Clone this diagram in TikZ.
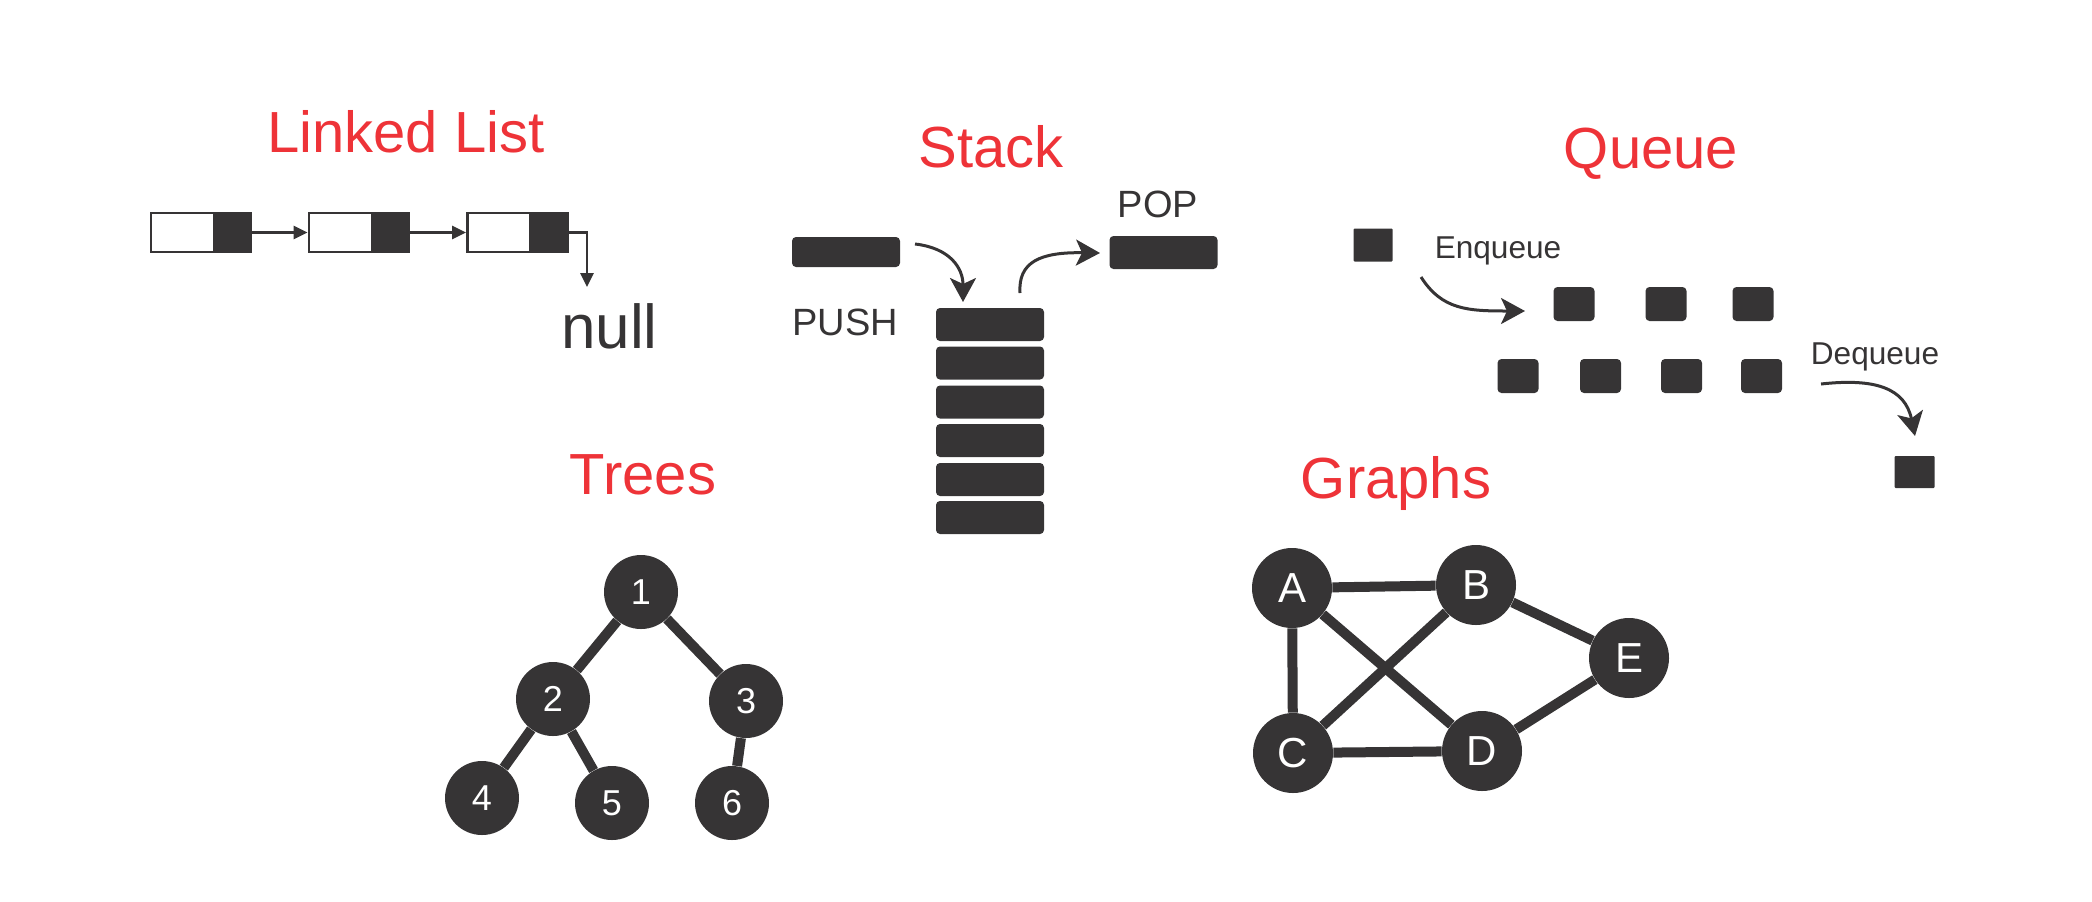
\documentclass[tikz,border=0pt]{standalone}
\usepackage{fontspec}
\setmainfont{Liberation Sans}
\usetikzlibrary{positioning,arrows.meta}
\definecolor{ink}{HTML}{363435}
\definecolor{headred}{HTML}{EE3338}

\begin{document}
\begin{tikzpicture}[x=0.5pt,y=-0.5pt]
    \def\px{0.5pt}
    \tikzstyle{heading}=[text=headred, font=\fontsize{29}{30}\selectfont, anchor=base, inner sep=0pt]
    \tikzstyle{note}=[text=ink, anchor=base, inner sep=0pt]
    \tikzstyle{cell}=[draw=ink, line width=1.4pt, fill=white, minimum width=63*\px, minimum height=39*\px, inner sep=0pt]
    \tikzstyle{ptr}=[draw=ink, line width=1.4pt, fill=ink, minimum width=34*\px, minimum height=39*\px, inner sep=0pt]
    \tikzstyle{bar}=[fill=ink, rounded corners=2pt, minimum width=108*\px, minimum height=33*\px, inner sep=0pt]
    \tikzstyle{item}=[fill=ink, rounded corners=2pt, minimum width=41*\px, minimum height=34*\px, inner sep=0pt]
    \tikzstyle{vertex}=[circle, fill=ink, text=white, inner sep=0pt]

    \useasboundingbox (0,0) rectangle (2092,901);

    % titles
    \node[heading] (tlist) at (406,152) {Linked List};
    \node[heading] (tstack) at (991,167) {Stack};
    \node[heading] (tqueue) at (1651,168) {Queue};
    \node[heading] (ttree) at (643,494) {Trees};
    \node[heading] (tgraph) at (1396,498) {Graphs};

    % linked list
    \node[cell] (c1) at (182.5,232.5) {};
    \node[ptr, right=0pt of c1] (p1) {};
    \node[cell] (c2) at (340.5,232.5) {};
    \node[ptr, right=0pt of c2] (p2) {};
    \node[cell] (c3) at (499,232.5) {};
    \node[ptr, right=0pt of c3] (p3) {};
    \node[note, font=\fontsize{31}{32}\selectfont] (null) at (609.5,348) {null};
    \coordinate (nullend) at (587,287);

    \tikzstyle{linkarrow} = [-{Triangle[length=7pt, width=6.5pt]}, draw=ink, line width=1.4pt]

          \draw [linkarrow] (p1) -- (c2);
          \draw [linkarrow] (p2) -- (c3);
          \draw [linkarrow] (p3) -| (nullend);

    % stack
    \node[bar, minimum height=30*\px] (push) at (846,252) {};
    \node[bar] (pop) at (1163.5,252.5) {};
    \node[note, font=\fontsize{19}{20}\selectfont] (pushtext) at (845,335) {PUSH};
    \node[note, font=\fontsize{19}{20}\selectfont] (poptext) at (1158,217) {POP};
    \node[bar] (s1) at (990,324.5) {};
    \node[bar] (s2) at (990,363) {};
    \node[bar] (s3) at (990,402) {};
    \node[bar] (s4) at (990,440.5) {};
    \node[bar] (s5) at (990,479.5) {};
    \node[bar] (s6) at (990,517.5) {};
    \coordinate (pushfrom) at (915,244);
    \coordinate (pushto) at (963,302);
    \coordinate (popfrom) at (1020,293);
    \coordinate (popto) at (1100,253);

    % queue
    \node[item, rounded corners=0.5pt, minimum width=39*\px, minimum height=33*\px] (qin) at (1373,245) {};
    \node[item] (q1) at (1574,304) {};
    \node[item] (q2) at (1666,304) {};
    \node[item] (q3) at (1753,304) {};
    \node[item] (q4) at (1518,376) {};
    \node[item] (q5) at (1600.5,376) {};
    \node[item] (q6) at (1681.5,376) {};
    \node[item] (q7) at (1761.5,376) {};
    \node[item, rounded corners=0.5pt, minimum width=40*\px, minimum height=32*\px] (qout) at (1914.5,472) {};
    \node[note, font=\fontsize{15.8}{17}\selectfont] (enq) at (1498,258) {Enqueue};
    \node[note, font=\fontsize{15.8}{17}\selectfont] (deq) at (1875,364) {Dequeue};
    \coordinate (enqfrom) at (1421,277);
    \coordinate (enqto) at (1525,311);
    \coordinate (deqfrom) at (1821,384);
    \coordinate (deqto) at (1915,436);

    \tikzstyle{bigarrow} = [-{Stealth[length=12pt, width=13pt, inset=3pt]}, draw=ink, line width=1.5pt]

          \draw [bigarrow] (pushfrom) .. controls (950,248) and (963,268) .. (pushto);
          \draw [bigarrow] (popfrom) .. controls (1018,262) and (1040,252) .. (popto);
          \draw [bigarrow] (enqfrom) .. controls (1442,310) and (1468,311) .. (enqto);
          \draw [bigarrow] (deqfrom) .. controls (1875,378) and (1905,388) .. (deqto);

    % trees
    \tikzstyle{treenode}=[vertex, minimum size=74*\px, font=\fontsize{18}{18}\selectfont]
    \node[treenode] (1) at (641,592) {1};
    \node[treenode] (2) at (553,699) {2};
    \node[treenode] (3) at (746,701) {3};
    \node[treenode] (4) at (482,798) {4};
    \node[treenode] (5) at (612,803) {5};
    \node[treenode] (6) at (732,803) {6};

    % graphs
    \tikzstyle{graphnode}=[vertex, minimum size=80*\px, font=\fontsize{21}{21}\selectfont]
    \node[graphnode] (A) at (1292,588) {A};
    \node[graphnode] (B) at (1476,585) {B};
    \node[graphnode] (E) at (1629,658) {E};
    \node[graphnode] (C) at (1293,753) {C};
    \node[graphnode] (D) at (1482,751) {D};

    \tikzstyle{branch} = [draw=ink, line width=5pt]

          \draw [branch] (1) -- (2);
          \draw [branch] (1) -- (3);
          \draw [branch] (2) -- (4);
          \draw [branch] (2) -- (5);
          \draw [branch] (3) -- (6);

          \draw [branch] (A) -- (B);
          \draw [branch] (A) -- (C);
          \draw [branch] (A) -- (D);
          \draw [branch] (B) -- (C);
          \draw [branch] (B) -- (E);
          \draw [branch] (C) -- (D);
          \draw [branch] (D) -- (E);
\end{tikzpicture}
\end{document}
